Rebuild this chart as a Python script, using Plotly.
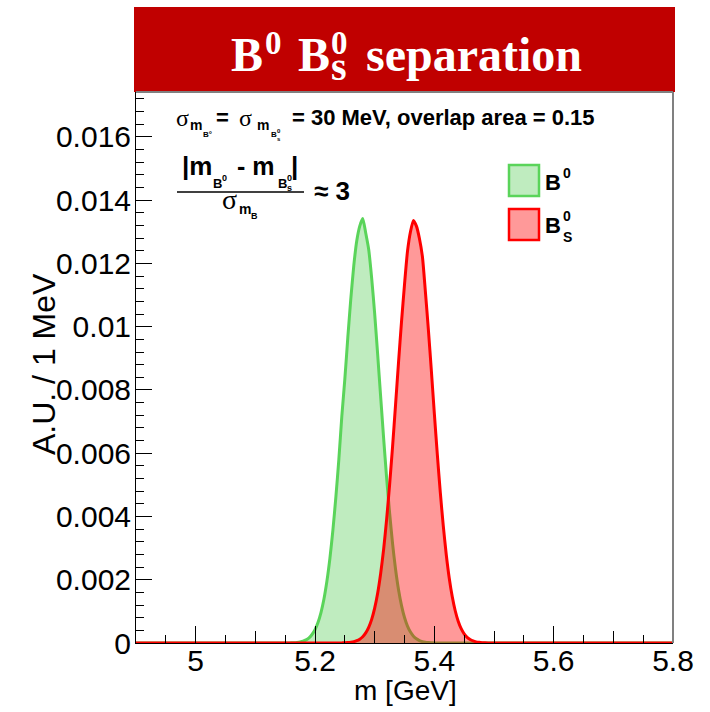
import plotly.graph_objects as go

# ---- data: normalised mass spectra, 1 MeV bins (values per bin) ----
mass_b0 = [4.900,
           5.150, 5.155, 5.160, 5.165, 5.170, 5.175, 5.180, 5.185, 5.190, 5.195,
           5.200, 5.205, 5.210, 5.215, 5.220, 5.225, 5.230, 5.235, 5.240, 5.245,
           5.250, 5.255, 5.260, 5.265, 5.270, 5.275, 5.280, 5.285, 5.290, 5.295,
           5.300, 5.305, 5.310, 5.315, 5.320, 5.325, 5.330, 5.335, 5.340, 5.345,
           5.350, 5.355, 5.360, 5.365, 5.370, 5.375, 5.380, 5.385, 5.390, 5.395,
           5.400, 5.405, 5.410,
           5.800]
counts_b0 = [0.0,
             0.0000013, 0.0000026, 0.0000052, 0.0000098, 0.0000180, 0.0000330, 0.0000580, 0.000099, 0.000165, 0.000268,
             0.000420, 0.000645, 0.000960, 0.001390, 0.001960, 0.002680, 0.003570, 0.004620, 0.005810, 0.007180,
             0.008340, 0.009660, 0.010880, 0.011930, 0.012720, 0.013180, 0.013420, 0.012960, 0.012440, 0.011530,
             0.010410, 0.009130, 0.007800, 0.006480, 0.005230, 0.004120, 0.003140, 0.002330, 0.001680, 0.001180,
             0.000805, 0.000535, 0.000345, 0.000216, 0.000132, 0.0000780, 0.0000450, 0.0000250, 0.0000140, 0.0000074,
             0.0000038, 0.0000019, 0.0000010,
             0.0]

mass_bs = [4.900,
           5.240, 5.245, 5.250, 5.255, 5.260, 5.265, 5.270, 5.275, 5.280, 5.285,
           5.290, 5.295, 5.300, 5.305, 5.310, 5.315, 5.320, 5.325, 5.330, 5.335,
           5.340, 5.345, 5.350, 5.355, 5.360, 5.365, 5.370, 5.375, 5.380, 5.385,
           5.390, 5.395, 5.400, 5.405, 5.410, 5.415, 5.420, 5.425, 5.430, 5.435,
           5.440, 5.445, 5.450, 5.455, 5.460, 5.465, 5.470, 5.475, 5.480, 5.485,
           5.490, 5.495,
           5.800]
counts_bs = [0.0,
             0.0000017, 0.0000034, 0.0000066, 0.0000125, 0.0000230, 0.0000411, 0.0000714, 0.000121, 0.000198, 0.000318,
             0.000493, 0.000746, 0.001100, 0.001570, 0.002190, 0.002960, 0.003900, 0.004990, 0.006210, 0.007530,
             0.008870, 0.010160, 0.011330, 0.012380, 0.013000, 0.013360, 0.013180, 0.012790, 0.012220, 0.011110,
             0.009910, 0.008610, 0.007260, 0.005960, 0.004760, 0.003700, 0.002790, 0.002050, 0.001470, 0.001020,
             0.000689, 0.000452, 0.000290, 0.000180, 0.000109, 0.0000641, 0.0000367, 0.0000203, 0.0000110, 0.0000059,
             0.0000030, 0.0000015,
             0.0]

x_range = [4.9, 5.8]
y_range = [0.0, 0.01742]

# ---- page geometry ----
W, H = 710, 712
L, R, T, B = 136, 37, 92, 69
PW, PH = W - L - R, H - T - B

SANS = "Liberation Sans, Arial, Helvetica, sans-serif"
SERIF = "Liberation Serif, Times New Roman, serif"

GREEN_LINE = "rgb(90,212,90)"
GREEN_FILL = "rgb(191,236,191)"
RED_LINE = "rgb(255,0,0)"
RED_FILL = "rgba(255,0,0,0.40)"


def px(x, y):
    """Page pixel -> paper coordinates."""
    return (x - L) / PW, (H - B - y) / PH


def txt(x, baseline, s, size, bold=True, family=SANS, color="black"):
    """Text whose left edge sits at x and whose baseline sits at `baseline` (pixels)."""
    ax, ay = px(x, baseline - 0.35 * size)
    return dict(x=ax, y=ay, xref="paper", yref="paper", text=s, showarrow=False,
                xanchor="left", yanchor="middle", borderpad=0,
                font=dict(family=family, size=size, color=color,
                          weight="bold" if bold else "normal"))


def stacked(x, center, top, bottom, size_top, size_bot, gap, family, color="black", bold=True):
    """Superscript stacked over a subscript in one text block (line pitch = 1.3 * gap)."""
    ax, ay = px(x, center)
    s = (f'<span style="font-size:{size_top}px">{top}</span><br>'
         f'<span style="font-size:{size_bot}px">{bottom}</span>')
    return dict(x=ax, y=ay, xref="paper", yref="paper", text=s, showarrow=False,
                xanchor="left", yanchor="middle", align="left", borderpad=0,
                font=dict(family=family, size=gap, color=color,
                          weight="bold" if bold else "normal"))


fig = go.Figure()

fig.add_trace(go.Scatter(
    x=mass_b0, y=counts_b0, mode="lines", fill="tozeroy",
    fillcolor=GREEN_FILL, line=dict(color=GREEN_LINE, width=3, shape="spline", smoothing=0.6),
    showlegend=False, hoverinfo="skip"))
fig.add_trace(go.Scatter(
    x=mass_bs, y=counts_bs, mode="lines", fill="tozeroy",
    fillcolor=RED_FILL, line=dict(color=RED_LINE, width=3, shape="spline", smoothing=0.6),
    showlegend=False, hoverinfo="skip"))

# secondary (0.1 GeV) tick marks on an overlaid axis
fig.add_trace(go.Scatter(x=x_range, y=[None, None], xaxis="x2", mode="lines",
                         showlegend=False, hoverinfo="skip"))

annotations = []

# title banner text
annotations += [
    txt(230, 71, "B", 48, family=SERIF, color="white"),
    txt(264, 55, "0", 33, family=SERIF, color="white"),
    txt(297, 71, "B", 48, family=SERIF, color="white"),
    stacked(330, 57, "0", "s", 33, 40, 20, SERIF, color="white"),
    txt(365, 71, "separation", 48, family=SERIF, color="white"),
]

# resolution / overlap line
annotations += [
    txt(175, 126, "σ", 24, bold=False, family=SERIF),
    txt(189, 130, "m", 14),
    txt(202, 137, "B°", 8),
    txt(215, 125, "=", 22),
    txt(238, 126, "σ", 24, bold=False, family=SERIF),
    txt(256, 130, "m", 14),
    txt(270, 137, "B", 8),
    txt(276, 133, "0", 6),
    txt(276, 141, "s", 6),
    txt(291, 125, "= 30 MeV, overlap area = 0.15", 22),
]

# separation in units of resolution
annotations += [
    txt(181, 175, "|m", 26),
    txt(212, 188, "B", 13),
    txt(221, 181, "0", 9),
    txt(229, 175, " - m", 25),
    txt(277, 188, "B", 13),
    txt(286, 181, "0", 9),
    txt(286, 191, "s", 9),
    txt(290, 175, "|", 26),
    txt(221, 209, "σ", 28, bold=False, family=SERIF),
    txt(238, 214, "m", 14),
    txt(250, 219, "B", 9),
    txt(313, 200, "≈ 3", 26),
]

# legend labels
annotations += [
    txt(544, 190, "B", 22),
    txt(562, 178, "0", 14),
    txt(544, 233, "B", 22),
    txt(562, 221, "0", 14),
    txt(562, 242, "S", 14),
]

# axis titles
ax_, ay_ = px(44, 364)
annotations.append(dict(x=ax_, y=ay_, xref="paper", yref="paper", text="A.U. / 1 MeV",
                        showarrow=False, textangle=-90, xanchor="center", yanchor="middle",
                        font=dict(family=SANS, size=32, color="black")))
ax_, ay_ = px(405, 690)
annotations.append(dict(x=ax_, y=ay_, xref="paper", yref="paper", text="m [GeV]",
                        showarrow=False, xanchor="center", yanchor="middle",
                        font=dict(family=SANS, size=28, color="black")))

shapes = []
# red title banner
x0, y0 = px(134, 92)
x1, y1 = px(675, 7)
shapes.append(dict(type="rect", xref="paper", yref="paper", x0=x0, x1=x1, y0=y0, y1=y1,
                   fillcolor="rgb(192,0,0)", line=dict(width=0), layer="above"))
# frame (top and right edges)
shapes.append(dict(type="line", xref="paper", yref="paper", x0=0, x1=1, y0=1, y1=1,
                   line=dict(color="rgb(128,128,128)", width=2)))
shapes.append(dict(type="line", xref="paper", yref="paper", x0=1, x1=1, y0=0, y1=1,
                   line=dict(color="rgb(128,128,128)", width=2)))
# fraction bar
x0, y0 = px(177, 192)
x1, _ = px(304, 192)
shapes.append(dict(type="line", xref="paper", yref="paper", x0=x0, x1=x1, y0=y0, y1=y0,
                   line=dict(color="black", width=1.5)))
# legend boxes
for top, fill, edge in [(165, GREEN_FILL, GREEN_LINE), (209, "rgb(255,153,153)", RED_LINE)]:
    x0, y0 = px(509, top + 31)
    x1, y1 = px(539, top)
    shapes.append(dict(type="rect", xref="paper", yref="paper", x0=x0, x1=x1, y0=y0, y1=y1,
                       fillcolor=fill, line=dict(color=edge, width=2.5)))

fig.update_layout(
    width=W, height=H,
    margin=dict(l=L, r=R, t=T, b=B, pad=0),
    paper_bgcolor="white", plot_bgcolor="white",
    showlegend=False,
    font=dict(family=SANS, size=28, color="black"),
    annotations=annotations,
    shapes=shapes,
    xaxis=dict(range=x_range, tickvals=[5.0, 5.2, 5.4, 5.6, 5.8],
               ticktext=["5", "5.2", "5.4", "5.6", "5.8"],
               ticks="inside", ticklen=17, tickwidth=1, tickcolor="black",
               minor=dict(dtick=0.05, tick0=4.9, ticks="inside", ticklen=8, tickwidth=1,
                          tickcolor="black", showgrid=False),
               showline=True, linecolor="black", linewidth=1, mirror=False,
               showgrid=False, zeroline=False,
               tickfont=dict(family=SANS, size=30), ticklabelstandoff=-9),
    xaxis2=dict(range=x_range, overlaying="x", side="bottom", anchor="y",
                tickvals=[5.0, 5.1, 5.2, 5.3, 5.4, 5.5, 5.6, 5.7],
                ticks="inside", ticklen=12, tickwidth=1, tickcolor="black",
                showticklabels=False, showgrid=False, zeroline=False, showline=False),
    yaxis=dict(range=y_range, dtick=0.002, tick0=0,
               ticks="inside", ticklen=16, tickwidth=1, tickcolor="black",
               minor=dict(dtick=0.0004, ticks="inside", ticklen=8, tickwidth=1,
                          tickcolor="black", showgrid=False),
               showline=True, linecolor="black", linewidth=1,
               showgrid=False, zeroline=False,
               tickfont=dict(family=SANS, size=30), ticklabelstandoff=-2),
)

fig.write_html("out.html")
